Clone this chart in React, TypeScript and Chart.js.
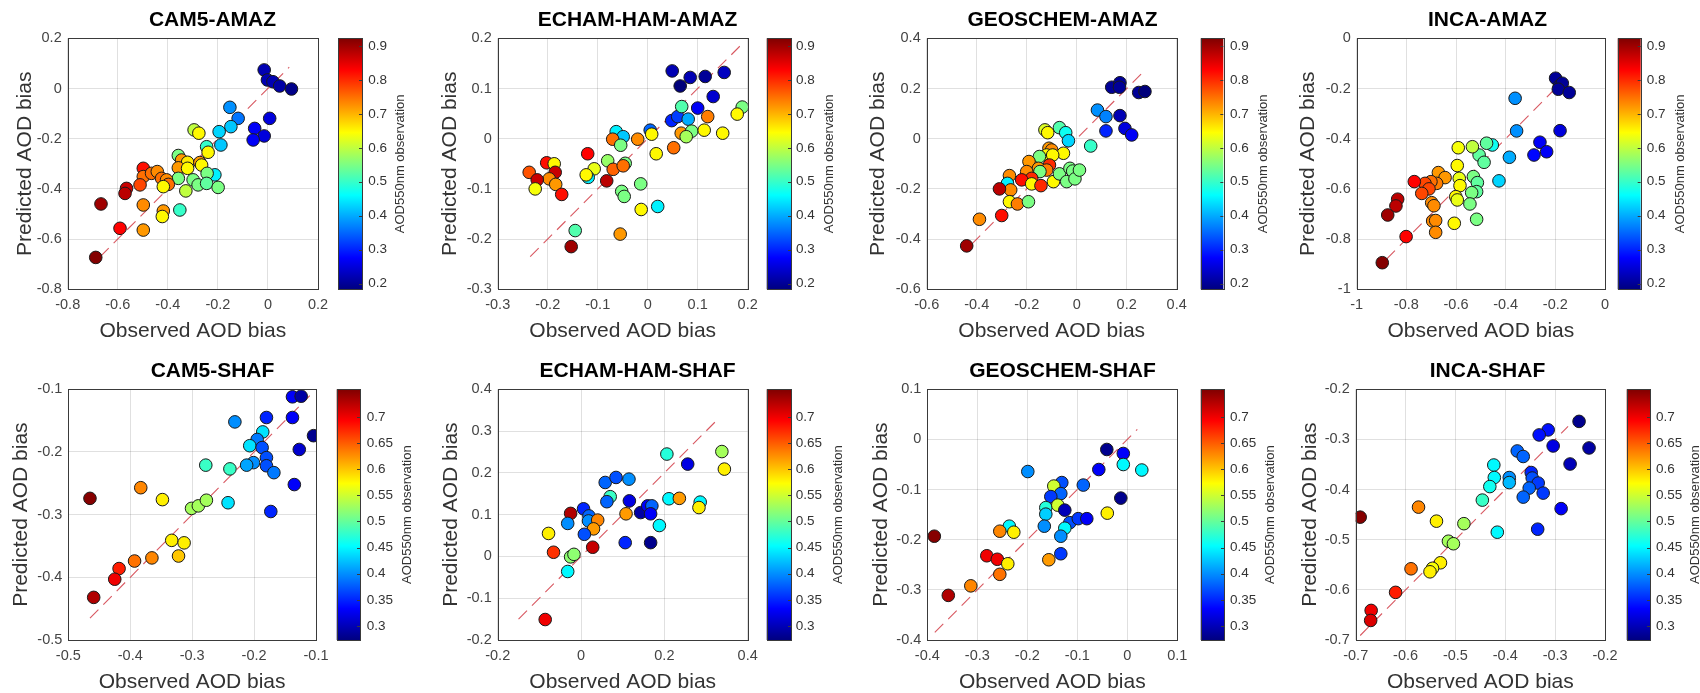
import React, { useEffect, useRef } from 'react';
import { Chart, registerables } from 'chart.js';
Chart.register(...registerables);

const FONT = '"Liberation Sans", Arial, Helvetica, sans-serif';

// ---------- CAM5-AMAZ ----------
const cam5AmazObs = [-0.015, -0.002, 0.02, 0.047, 0.094, 0.007, -0.053, -0.015, -0.059, -0.152, -0.119, -0.148, -0.195, -0.188, -0.295, -0.276, -0.245, -0.239, -0.358, -0.345, -0.321, -0.272, -0.265, -0.358, -0.321, -0.212, -0.243, -0.358, -0.299, -0.279, -0.245, -0.199, -0.328, -0.498, -0.498, -0.465, -0.442, -0.425, -0.405, -0.398, -0.418, -0.511, -0.565, -0.571, -0.667, -0.498, -0.418, -0.422, -0.352, -0.498, -0.591, -0.688];
const cam5AmazPred = [0.074, 0.034, 0.027, 0.01, -0.002, -0.119, -0.159, -0.189, -0.205, -0.075, -0.119, -0.152, -0.172, -0.225, -0.165, -0.178, -0.232, -0.254, -0.267, -0.285, -0.294, -0.295, -0.305, -0.316, -0.318, -0.344, -0.338, -0.358, -0.364, -0.384, -0.378, -0.394, -0.408, -0.318, -0.351, -0.338, -0.331, -0.358, -0.364, -0.382, -0.391, -0.384, -0.398, -0.418, -0.46, -0.464, -0.488, -0.51, -0.484, -0.564, -0.557, -0.673];
const cam5AmazAod = [0.22, 0.22, 0.22, 0.21, 0.19, 0.25, 0.27, 0.25, 0.27, 0.38, 0.36, 0.42, 0.43, 0.42, 0.6, 0.65, 0.5, 0.65, 0.55, 0.72, 0.66, 0.72, 0.65, 0.72, 0.65, 0.45, 0.55, 0.55, 0.55, 0.55, 0.53, 0.55, 0.6, 0.82, 0.75, 0.75, 0.73, 0.75, 0.73, 0.75, 0.65, 0.78, 0.87, 0.88, 0.9, 0.73, 0.72, 0.65, 0.5, 0.72, 0.83, 0.92];
const cam5AmazLine = [-0.67, 0.085];

// ---------- ECHAM-HAM-AMAZ ----------
const echamAmazObs = [0.049, 0.065, 0.085, 0.115, 0.153, 0.131, 0.1, 0.048, 0.06, 0.081, 0.068, 0.12, 0.189, 0.179, 0.067, 0.088, 0.077, 0.113, 0.15, 0.052, 0.005, 0.008, 0.017, -0.02, -0.063, -0.049, -0.07, -0.054, -0.12, -0.08, -0.069, -0.045, -0.049, -0.107, -0.119, -0.123, -0.082, -0.052, -0.047, -0.014, -0.013, 0.02, -0.055, -0.145, -0.153, -0.202, -0.187, -0.185, -0.197, -0.184, -0.172, -0.237, -0.221, -0.225];
const echamAmazPred = [0.135, 0.105, 0.122, 0.124, 0.132, 0.084, 0.061, 0.036, 0.044, 0.039, 0.064, 0.044, 0.063, 0.049, 0.011, 0.015, 0.004, 0.017, 0.011, -0.018, 0.017, 0.009, -0.03, -0.001, 0.014, 0.004, -0.001, -0.013, -0.03, -0.044, -0.061, -0.049, -0.054, -0.06, -0.077, -0.072, -0.084, -0.105, -0.115, -0.09, -0.141, -0.135, -0.19, -0.183, -0.215, -0.048, -0.05, -0.067, -0.08, -0.091, -0.111, -0.067, -0.082, -0.1];
const echamAmazAod = [0.22, 0.18, 0.22, 0.2, 0.23, 0.24, 0.27, 0.3, 0.32, 0.4, 0.52, 0.74, 0.55, 0.65, 0.72, 0.55, 0.58, 0.65, 0.65, 0.75, 0.35, 0.65, 0.65, 0.73, 0.45, 0.42, 0.75, 0.55, 0.83, 0.57, 0.76, 0.55, 0.75, 0.63, 0.45, 0.65, 0.88, 0.55, 0.55, 0.55, 0.65, 0.45, 0.72, 0.52, 0.9, 0.82, 0.65, 0.87, 0.73, 0.72, 0.82, 0.77, 0.87, 0.64];
const echamAmazLine = [-0.235, 0.185];

// ---------- GEOSCHEM-AMAZ ----------
const geosAmazObs = [0.14, 0.173, 0.171, 0.248, 0.273, 0.083, 0.117, 0.117, 0.173, 0.193, 0.22, 0.056, -0.069, -0.044, -0.033, -0.127, -0.116, -0.111, -0.1, -0.053, -0.12, -0.096, -0.149, -0.191, -0.109, -0.153, -0.12, -0.147, -0.2, -0.18, -0.22, -0.18, -0.143, -0.093, -0.069, -0.04, -0.027, -0.016, -0.007, 0.011, -0.269, -0.277, -0.264, -0.309, -0.269, -0.237, -0.193, -0.3, -0.389, -0.44];
const geosAmazPred = [0.205, 0.223, 0.205, 0.184, 0.188, 0.114, 0.088, 0.031, 0.092, 0.041, 0.015, -0.029, 0.044, 0.024, -0.008, 0.035, 0.024, -0.038, -0.045, -0.058, -0.065, -0.065, -0.071, -0.091, -0.105, -0.118, -0.125, -0.131, -0.131, -0.158, -0.164, -0.18, -0.187, -0.171, -0.14, -0.171, -0.118, -0.129, -0.16, -0.125, -0.147, -0.178, -0.204, -0.2, -0.251, -0.26, -0.251, -0.306, -0.321, -0.427];
const geosAmazAod = [0.2, 0.2, 0.2, 0.2, 0.18, 0.38, 0.37, 0.3, 0.22, 0.25, 0.27, 0.5, 0.52, 0.47, 0.43, 0.62, 0.65, 0.72, 0.73, 0.65, 0.65, 0.65, 0.55, 0.72, 0.8, 0.72, 0.74, 0.55, 0.73, 0.8, 0.82, 0.65, 0.8, 0.65, 0.55, 0.55, 0.55, 0.55, 0.55, 0.55, 0.73, 0.45, 0.73, 0.88, 0.65, 0.74, 0.55, 0.82, 0.73, 0.9];
const geosAmazLine = [-0.42, 0.264];

// ---------- INCA-AMAZ ----------
const incaAmazObs = [-0.199, -0.184, -0.172, -0.188, -0.144, -0.181, -0.262, -0.235, -0.286, -0.362, -0.356, -0.385, -0.427, -0.454, -0.477, -0.507, -0.487, -0.534, -0.591, -0.595, -0.53, -0.514, -0.517, -0.537, -0.587, -0.584, -0.601, -0.595, -0.544, -0.517, -0.607, -0.671, -0.644, -0.678, -0.701, -0.725, -0.768, -0.709, -0.738, -0.698, -0.689, -0.835, -0.842, -0.875, -0.694, -0.682, -0.682, -0.801, -0.897];
const incaAmazPred = [-0.159, -0.19, -0.179, -0.203, -0.216, -0.368, -0.414, -0.452, -0.465, -0.239, -0.369, -0.474, -0.568, -0.425, -0.418, -0.465, -0.494, -0.432, -0.436, -0.507, -0.551, -0.575, -0.611, -0.615, -0.558, -0.587, -0.631, -0.644, -0.66, -0.721, -0.737, -0.535, -0.555, -0.578, -0.571, -0.578, -0.571, -0.6, -0.618, -0.655, -0.667, -0.641, -0.668, -0.704, -0.728, -0.726, -0.773, -0.79, -0.894];
const incaAmazAod = [0.2, 0.2, 0.2, 0.2, 0.2, 0.25, 0.27, 0.27, 0.28, 0.38, 0.38, 0.4, 0.43, 0.47, 0.53, 0.53, 0.53, 0.6, 0.64, 0.65, 0.55, 0.53, 0.53, 0.55, 0.63, 0.65, 0.65, 0.63, 0.55, 0.55, 0.65, 0.72, 0.72, 0.74, 0.75, 0.78, 0.83, 0.78, 0.78, 0.73, 0.73, 0.88, 0.88, 0.9, 0.73, 0.73, 0.73, 0.83, 0.92];
const incaAmazLine = [-0.88, -0.21];

// ---------- CAM5-SHAF ----------
const cam5ShafObs = [-0.138, -0.124, -0.18, -0.138, -0.104, -0.127, -0.231, -0.186, -0.195, -0.207, -0.187, -0.18, -0.201, -0.212, -0.18, -0.168, -0.278, -0.239, -0.135, -0.173, -0.242, -0.301, -0.29, -0.277, -0.383, -0.348, -0.333, -0.313, -0.322, -0.365, -0.393, -0.418, -0.425, -0.465, -0.459];
const cam5ShafPred = [-0.112, -0.111, -0.145, -0.145, -0.174, -0.196, -0.152, -0.168, -0.18, -0.19, -0.193, -0.209, -0.217, -0.221, -0.222, -0.233, -0.221, -0.227, -0.252, -0.295, -0.281, -0.29, -0.286, -0.277, -0.257, -0.276, -0.341, -0.345, -0.366, -0.369, -0.374, -0.386, -0.403, -0.274, -0.432];
const cam5ShafAod = [0.33, 0.29, 0.35, 0.33, 0.28, 0.31, 0.4, 0.44, 0.39, 0.44, 0.37, 0.37, 0.4, 0.41, 0.37, 0.39, 0.48, 0.48, 0.33, 0.35, 0.44, 0.53, 0.53, 0.53, 0.63, 0.58, 0.58, 0.58, 0.6, 0.63, 0.64, 0.68, 0.7, 0.75, 0.73];
const cam5ShafLine = [-0.465, -0.11];

// ---------- ECHAM-HAM-SHAF ----------
const echamShafObs = [0.206, 0.338, 0.256, 0.344, 0.058, 0.084, 0.115, 0.07, 0.062, 0.116, 0.143, 0.16, 0.17, 0.167, 0.211, 0.236, 0.286, 0.283, 0.188, 0.108, 0.106, 0.167, -0.025, 0.006, 0.019, -0.032, 0.018, 0.04, 0.03, 0.008, -0.078, -0.066, -0.025, -0.017, 0.028, -0.032, -0.086];
const echamShafPred = [0.245, 0.251, 0.221, 0.209, 0.177, 0.189, 0.185, 0.143, 0.131, 0.133, 0.105, 0.121, 0.121, 0.102, 0.138, 0.139, 0.13, 0.117, 0.074, 0.102, 0.033, 0.033, 0.103, 0.114, 0.097, 0.079, 0.085, 0.087, 0.066, 0.053, 0.055, 0.01, -0.001, 0.005, 0.022, -0.036, -0.151];
const echamShafAod = [0.47, 0.53, 0.32, 0.58, 0.38, 0.37, 0.4, 0.48, 0.38, 0.32, 0.29, 0.33, 0.38, 0.33, 0.45, 0.62, 0.45, 0.58, 0.45, 0.62, 0.35, 0.28, 0.73, 0.35, 0.38, 0.4, 0.4, 0.63, 0.62, 0.37, 0.58, 0.67, 0.52, 0.52, 0.72, 0.45, 0.7];
const echamShafLine = [-0.15, 0.333];

// ---------- GEOSCHEM-SHAF ----------
const geosShafObs = [-0.041, -0.008, -0.008, 0.029, -0.057, -0.013, -0.04, -0.199, -0.088, -0.131, -0.147, -0.133, -0.153, -0.163, -0.139, -0.125, -0.163, -0.166, -0.115, -0.098, -0.081, -0.125, -0.133, -0.133, -0.157, -0.236, -0.255, -0.227, -0.281, -0.26, -0.239, -0.255, -0.313, -0.386, -0.358];
const geosShafPred = [-0.02, -0.028, -0.05, -0.061, -0.06, -0.117, -0.147, -0.064, -0.091, -0.086, -0.093, -0.108, -0.114, -0.136, -0.131, -0.141, -0.149, -0.173, -0.166, -0.158, -0.158, -0.177, -0.193, -0.228, -0.24, -0.173, -0.183, -0.185, -0.232, -0.239, -0.248, -0.269, -0.292, -0.193, -0.311];
const geosShafAod = [0.28, 0.33, 0.45, 0.45, 0.33, 0.28, 0.58, 0.4, 0.38, 0.37, 0.55, 0.38, 0.36, 0.47, 0.55, 0.3, 0.43, 0.4, 0.37, 0.36, 0.33, 0.45, 0.4, 0.36, 0.62, 0.45, 0.63, 0.58, 0.7, 0.7, 0.58, 0.64, 0.63, 0.75, 0.73];
const geosShafLine = [-0.385, 0.02];

// ---------- INCA-SHAF ----------
const incaShafObs = [-0.252, -0.232, -0.314, -0.332, -0.304, -0.27, -0.288, -0.335, -0.376, -0.364, -0.348, -0.346, -0.334, -0.352, -0.324, -0.364, -0.392, -0.392, -0.423, -0.422, -0.431, -0.446, -0.416, -0.483, -0.514, -0.504, -0.574, -0.538, -0.53, -0.546, -0.551, -0.589, -0.62, -0.669, -0.67, -0.691];
const incaShafPred = [-0.264, -0.317, -0.281, -0.291, -0.313, -0.349, -0.438, -0.479, -0.323, -0.334, -0.366, -0.377, -0.387, -0.397, -0.407, -0.415, -0.376, -0.386, -0.351, -0.376, -0.394, -0.421, -0.485, -0.468, -0.503, -0.508, -0.435, -0.463, -0.546, -0.557, -0.564, -0.558, -0.605, -0.641, -0.661, -0.455];
const incaShafAod = [0.28, 0.29, 0.34, 0.34, 0.32, 0.3, 0.33, 0.35, 0.38, 0.38, 0.35, 0.37, 0.36, 0.38, 0.36, 0.38, 0.4, 0.42, 0.45, 0.45, 0.46, 0.48, 0.45, 0.53, 0.53, 0.53, 0.63, 0.58, 0.58, 0.57, 0.58, 0.64, 0.68, 0.7, 0.71, 0.75];
const incaShafLine = [-0.691, -0.274];

// ---------- Axis ranges / ticks ----------
const titles = ['CAM5-AMAZ', 'ECHAM-HAM-AMAZ', 'GEOSCHEM-AMAZ', 'INCA-AMAZ', 'CAM5-SHAF', 'ECHAM-HAM-SHAF', 'GEOSCHEM-SHAF', 'INCA-SHAF'];
const xRanges = [[-0.8, 0.2], [-0.3, 0.2], [-0.6, 0.4], [-1, 0], [-0.5, -0.1], [-0.2, 0.4], [-0.4, 0.1], [-0.7, -0.2]];
const yRanges = [[-0.8, 0.2], [-0.3, 0.2], [-0.6, 0.4], [-1, 0], [-0.5, -0.1], [-0.2, 0.4], [-0.4, 0.1], [-0.7, -0.2]];
const xSteps = [0.2, 0.1, 0.2, 0.2, 0.1, 0.2, 0.1, 0.1];
const ySteps = [0.2, 0.1, 0.2, 0.2, 0.1, 0.1, 0.1, 0.1];
const cbRangeAmaz = [0.183, 0.923];
const cbTicksAmaz = [0.2, 0.3, 0.4, 0.5, 0.6, 0.7, 0.8, 0.9];
const cbRangeShaf = [0.273, 0.753];
const cbTicksShaf = [0.3, 0.35, 0.4, 0.45, 0.5, 0.55, 0.6, 0.65, 0.7];

const panelData = [
  { obs: cam5AmazObs, pred: cam5AmazPred, aod: cam5AmazAod, line: cam5AmazLine },
  { obs: echamAmazObs, pred: echamAmazPred, aod: echamAmazAod, line: echamAmazLine },
  { obs: geosAmazObs, pred: geosAmazPred, aod: geosAmazAod, line: geosAmazLine },
  { obs: incaAmazObs, pred: incaAmazPred, aod: incaAmazAod, line: incaAmazLine },
  { obs: cam5ShafObs, pred: cam5ShafPred, aod: cam5ShafAod, line: cam5ShafLine },
  { obs: echamShafObs, pred: echamShafPred, aod: echamShafAod, line: echamShafLine },
  { obs: geosShafObs, pred: geosShafPred, aod: geosShafAod, line: geosShafLine },
  { obs: incaShafObs, pred: incaShafPred, aod: incaShafAod, line: incaShafLine },
];

// ---------- Layout (page pixels) ----------
const layouts = [
  { cx: 0, cy: 0, cw: 425, ch: 346, L: 67.7, R: 318, T: 38.3, B: 289.3, cbL: 338, cbR: 362, cbTickX: 368.3, cbLabelX: 400, titleY: 20, yLabelX: 25, xLabelY: 331.7 },
  { cx: 425, cy: 0, cw: 425, ch: 346, L: 497.7, R: 747.7, T: 38.3, B: 289.3, cbL: 766.7, cbR: 791, cbTickX: 796, cbLabelX: 829.3, titleY: 20, yLabelX: 450.7, xLabelY: 331.7 },
  { cx: 850, cy: 0, cw: 425, ch: 346, L: 926.7, R: 1176.7, T: 38.3, B: 289.3, cbL: 1200.7, cbR: 1223.3, cbTickX: 1230, cbLabelX: 1263.3, titleY: 20, yLabelX: 878.3, xLabelY: 331.7 },
  { cx: 1275, cy: 0, cw: 425, ch: 346, L: 1356.7, R: 1605, T: 38.3, B: 289.3, cbL: 1617.7, cbR: 1640.7, cbTickX: 1646.7, cbLabelX: 1680, titleY: 20, yLabelX: 1308.3, xLabelY: 331.7 },
  { cx: 0, cy: 346, cw: 425, ch: 347, L: 68.3, R: 316, T: 389.3, B: 640, cbL: 336.7, cbR: 360, cbTickX: 366.7, cbLabelX: 407.3, titleY: 371, yLabelX: 21.7, xLabelY: 682.7 },
  { cx: 425, cy: 346, cw: 425, ch: 347, L: 497.7, R: 747.7, T: 389.3, B: 640, cbL: 766.7, cbR: 791, cbTickX: 795.7, cbLabelX: 838.3, titleY: 371, yLabelX: 451.7, xLabelY: 682.7 },
  { cx: 850, cy: 346, cw: 425, ch: 347, L: 927.3, R: 1177.3, T: 389.3, B: 640, cbL: 1200.7, cbR: 1224, cbTickX: 1230, cbLabelX: 1270.7, titleY: 371, yLabelX: 881.7, xLabelY: 682.7 },
  { cx: 1275, cy: 346, cw: 425, ch: 347, L: 1355.7, R: 1605, T: 389.3, B: 640, cbL: 1626.7, cbR: 1650, cbTickX: 1656, cbLabelX: 1695.7, titleY: 371, yLabelX: 1310, xLabelY: 682.7 },
];

function jet(t: number): string {
  const c = (v: number) => Math.max(0, Math.min(1, v));
  const r = c(1.5 - Math.abs(4 * t - 3));
  const g = c(1.5 - Math.abs(4 * t - 2));
  const b = c(1.5 - Math.abs(4 * t - 1));
  return `rgb(${Math.round(r * 255)},${Math.round(g * 255)},${Math.round(b * 255)})`;
}

const fmt = (v: any) => String(Math.round(Number(v) * 100) / 100);

const framePlugin = {
  id: 'frame',
  afterDraw(chart: any, _args: any, opts: any) {
    const { ctx, chartArea: a } = chart;
    const c = chart.scales.c;
    ctx.save();
    ctx.strokeStyle = '#3a3a3a';
    ctx.lineWidth = 1;
    ctx.strokeRect(Math.round(a.left) + 0.5, Math.round(a.top) + 0.5, Math.round(a.right - a.left), Math.round(a.bottom - a.top));
    const x0 = opts.cbL, x1 = opts.cbR;
    const top = c.getPixelForValue(c.max);
    const bot = c.getPixelForValue(c.min);
    const grad = ctx.createLinearGradient(0, bot, 0, top);
    for (let i = 0; i <= 64; i++) grad.addColorStop(i / 64, jet(i / 64));
    ctx.fillStyle = grad;
    ctx.fillRect(x0, top, x1 - x0, bot - top);
    ctx.strokeStyle = '#3a3a3a';
    ctx.strokeRect(Math.round(x0) + 0.5, Math.round(top) + 0.5, Math.round(x1 - x0), Math.round(bot - top));
    ctx.beginPath();
    for (const t of c.ticks) {
      const y = Math.round(c.getPixelForValue(t.value)) + 0.5;
      ctx.moveTo(x1, y); ctx.lineTo(x1 - 3, y);
    }
    ctx.stroke();
    ctx.translate(opts.cbLabelX, (top + bot) / 2);
    ctx.rotate(-Math.PI / 2);
    ctx.font = `13px ${FONT}`;
    ctx.fillStyle = '#333';
    ctx.textAlign = 'center';
    ctx.textBaseline = 'middle';
    ctx.fillText('AOD550nm observation', 0, 0);
    ctx.restore();
  },
};

function Panel({ idx }: { idx: number }) {
  const ref = useRef<HTMLCanvasElement>(null);
  useEffect(() => {
    const lay = layouts[idx];
    const d = panelData[idx];
    const amaz = idx < 4;
    const cbRange = amaz ? cbRangeAmaz : cbRangeShaf;
    const cbTicks = amaz ? cbTicksAmaz : cbTicksShaf;
    const l = lay.L - lay.cx, r = lay.R - lay.cx, t = lay.T - lay.cy, b = lay.B - lay.cy;
    const axisSize = 21;
    const titleLH = 21 * 1.2;
    const titlePadTop = lay.titleY - lay.cy - titleLH / 2;
    const titlePadBottom = t - titleLH - titlePadTop;
    const yTitlePad = lay.yLabelX - lay.cx - axisSize / 2;
    const xTitlePad = Math.max(0, lay.ch - (lay.xLabelY - lay.cy) - axisSize / 2);
    const [cmin, cmax] = cbRange;
    const colors = d.aod.map((v) => jet((v - cmin) / (cmax - cmin)));
    const tickFont = { family: FONT, size: 14.5 };
    const labelFont = { family: FONT, size: axisSize, lineHeight: 1 };
    const gridColor = 'rgba(0,0,0,0.12)';
    const noPad = (s: any) => { s.paddingTop = 0; s.paddingBottom = 0; };
    const chart = new Chart(ref.current as HTMLCanvasElement, {
      type: 'scatter',
      data: {
        datasets: [
          {
            type: 'scatter',
            data: d.obs.map((x, i) => ({ x, y: d.pred[i] })),
            backgroundColor: colors,
            borderColor: '#1a1a1a',
            borderWidth: 1,
            pointRadius: 6.3,
            order: 1,
          } as any,
          {
            type: 'line',
            data: d.line.map((v) => ({ x: v, y: v })),
            borderColor: 'rgba(212,70,80,0.9)',
            borderWidth: 1.1,
            borderDash: [12, 7],
            pointRadius: 0,
            fill: false,
            order: 2,
          } as any,
        ],
      },
      options: {
        animation: false,
        responsive: false,
        devicePixelRatio: 1,
        layout: { padding: 0 },
        events: [],
        plugins: {
          legend: { display: false },
          tooltip: { enabled: false },
          title: {
            display: true,
            text: titles[idx],
            color: '#000',
            font: { family: FONT, size: 21, weight: 'bold', lineHeight: 1.2 },
            padding: { top: titlePadTop, bottom: titlePadBottom },
          },
          frame: { cbL: lay.cbL - lay.cx, cbR: lay.cbR - lay.cx, cbLabelX: lay.cbLabelX - lay.cx },
        } as any,
        scales: {
          x: {
            type: 'linear',
            position: 'bottom',
            min: xRanges[idx][0],
            max: xRanges[idx][1],
            ticks: { stepSize: xSteps[idx], color: '#444', font: tickFont, padding: 7, maxRotation: 0, autoSkip: false, callback: fmt },
            grid: { color: gridColor, drawTicks: false },
            border: { display: false },
            title: { display: true, text: 'Observed AOD bias', color: '#333', font: labelFont, padding: { top: 0, bottom: xTitlePad } },
            afterFit: (s: any) => { s.height = lay.ch - b; },
          },
          y: {
            type: 'linear',
            position: 'left',
            min: yRanges[idx][0],
            max: yRanges[idx][1],
            ticks: { stepSize: ySteps[idx], color: '#444', font: tickFont, padding: 6, autoSkip: false, callback: fmt },
            grid: { color: gridColor, drawTicks: false },
            border: { display: false },
            title: { display: true, text: 'Predicted AOD bias', color: '#333', font: labelFont, padding: { top: yTitlePad, bottom: 0 } },
            afterFit: (s: any) => { s.width = l; noPad(s); },
          },
          c: {
            type: 'linear',
            position: 'right',
            min: cmin,
            max: cmax,
            grid: { display: false, drawTicks: false },
            border: { display: false },
            ticks: { color: '#333', font: { family: FONT, size: 13.5 }, padding: lay.cbTickX - lay.R, callback: fmt, autoSkip: false },
            afterBuildTicks: (s: any) => { s.ticks = cbTicks.map((v) => ({ value: v })); },
            afterFit: (s: any) => { s.width = lay.cw - r; noPad(s); },
          },
        } as any,
      },
      plugins: [framePlugin],
    });
    return () => chart.destroy();
  }, [idx]);
  const lay = layouts[idx];
  return (
    <canvas
      ref={ref}
      width={lay.cw}
      height={lay.ch}
      style={{ position: 'absolute', left: lay.cx, top: lay.cy, width: lay.cw, height: lay.ch }}
    />
  );
}

export default function App() {
  return (
    <div style={{ position: 'absolute', left: 0, top: 0, width: 1700, height: 693, background: '#fff', overflow: 'hidden' }}>
      {layouts.map((_, i) => (
        <Panel key={i} idx={i} />
      ))}
    </div>
  );
}
